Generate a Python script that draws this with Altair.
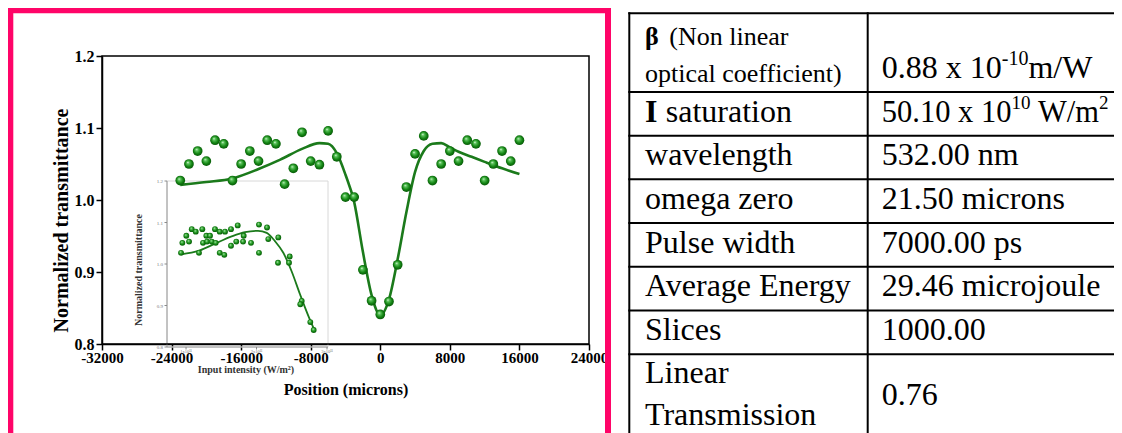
import re
import altair as alt
import pandas as pd

# ---------------- main Z-scan (closed aperture) data ----------------
pos_x = [-23000, -22000, -21000, -20000, -19000, -18000, -17000, -16000, -15000, -14000,
         -13000, -12000, -11000, -10000, -9000, -8000, -7000, -6000, -5000, -4000,
         -3000, -2000, -1000, 0, 1000, 2000, 3000, 4000, 5000, 6000,
         7000, 8000, 9000, 10000, 11000, 12000, 13000, 14000, 15000, 16000]
pos_t = [1.027, 1.050, 1.068, 1.054, 1.083, 1.078, 1.027, 1.050, 1.068, 1.054,
         1.083, 1.078, 1.022, 1.044, 1.094, 1.054, 1.049, 1.096, 1.060, 1.004,
         1.004, 0.903, 0.860, 0.841, 0.859, 0.910, 1.018, 1.064, 1.089, 1.027,
         1.050, 1.068, 1.054, 1.083, 1.078, 1.027, 1.050, 1.068, 1.054, 1.083]

fit_x = [-23000, -20000, -17000, -14000, -11500, -9000, -7000, -6000, -5000, -4000,
         -3000, -2000, -1000, 0, 1000, 2000, 3000, 4000, 5000, 6000,
         7000, 8000, 9000, 10500, 12000, 14000, 16000]
fit_t = [1.021, 1.025, 1.030, 1.043, 1.056, 1.071, 1.079, 1.078, 1.065, 1.035,
         0.997, 0.928, 0.868, 0.840, 0.862, 0.918, 0.983, 1.039, 1.068, 1.078,
         1.079, 1.073, 1.067, 1.060, 1.053, 1.044, 1.036]

x_ticks = [-32000, -24000, -16000, -8000, 0, 8000, 16000, 24000]
y_ticks = [0.8, 0.9, 1.0, 1.1, 1.2]

# ---------------- inset: transmittance vs input intensity (x 1e11 W/m^2) ----------------
int_x = [0.929, 0.948, 1.004, 1.043, 1.081, 1.138, 1.184, 1.231, 1.241, 1.288,
         1.298, 1.340, 1.365, 1.411, 1.421, 1.478, 1.478, 1.543, 1.553, 1.638,
         1.638, 1.713, 1.733, 1.809, 1.818, 1.922, 2.035, 2.035, 2.149, 2.167,
         2.309, 2.305, 2.471, 2.461, 2.641, 2.621, 2.763, 2.811]
int_t = [1.027, 1.051, 1.068, 1.054, 1.084, 1.078, 1.027, 1.084, 1.051, 1.068,
         1.054, 1.068, 1.054, 1.084, 1.051, 1.078, 1.027, 1.022, 1.078, 1.084,
         1.044, 1.054, 1.093, 1.054, 1.068, 1.051, 1.095, 1.027, 1.088, 1.060,
         1.064, 1.003, 1.018, 1.003, 0.911, 0.903, 0.860, 0.841]
int_fit_x = [0.929, 1.184, 1.411, 1.638, 1.837, 2.021, 2.145, 2.262, 2.380, 2.499,
             2.617, 2.735, 2.816]
int_fit_t = [1.023, 1.032, 1.049, 1.066, 1.077, 1.080, 1.075, 1.055, 1.027, 0.982,
             0.927, 0.875, 0.843]
in_x_ticks = [1, 2, 3]
in_x_labels = ["1x10¹¹", "2x10¹¹", "3x10¹¹"]
in_y_ticks = [0.8, 0.9, 1.0, 1.1, 1.2]

# ---------------- parameter table ----------------
param_bold = ["β", "I", "", "", "", "", "", ""]
param_lines = [["(Non linear", "optical coefficient)"], ["saturation"], ["wavelength"],
               ["omega zero"], ["Pulse width"], ["Average Energy"], ["Slices"],
               ["Linear", "Transmission"]]
param_values = ["0.88 x 10^{-10}m/W", "50.10 x 10^{10} W/m^{2}", "532.00 nm", "21.50 microns",
                "7000.00 ps", "29.46 microjoule", "1000.00", "0.76"]

# ---------------- layout ----------------
FONT = "Liberation Serif"
GREEN = "#1b7a1b"
OX, OY = 102, 56          # page position of the main plot origin
VW, VH = 487, 288         # main plot area
TOTAL_W, TOTAL_H = 1106, 425
PAD = {"left": OX - 8, "top": OY - 8,
       "right": TOTAL_W - (OX - 8) - VW, "bottom": TOTAL_H - (OY - 8) - VH}


def vx(p):
    return p - OX


def vy(p):
    return p - OY


def sphere():
    return {"gradient": "radial", "x1": 0.38, "y1": 0.32, "r1": 0.0,
            "x2": 0.5, "y2": 0.5, "r2": 0.58,
            "stops": [{"offset": 0.0, "color": "#f0fff0"},
                      {"offset": 0.22, "color": "#5cc45c"},
                      {"offset": 0.62, "color": "#118311"},
                      {"offset": 1.0, "color": "#064806"}]}


layers = []

# ---- pink frame around the figure ----
layers.append(alt.Chart(pd.DataFrame({"a": [0]})).mark_rect(
    fillOpacity=0, stroke="#ff0468", strokeWidth=6).encode(
    x=alt.value(vx(10.3)), x2=alt.value(vx(608.0)), y=alt.value(vy(10.3)), y2=alt.value(vy(500))))

# ---- inset chart (drawn first, under the main curve) ----
IN_DOM_X = [0.73, 3.014]
in_px_x = (vx(328) - vx(167)) / (IN_DOM_X[1] - IN_DOM_X[0])
in_px_y = (347 - 181) / 0.4


def in_xs():
    return alt.Scale(domain=IN_DOM_X, range=[vx(167), vx(328)], nice=False, zero=False)


def in_ys():
    return alt.Scale(domain=[0.8, 1.2], range=[vy(347), vy(181)], nice=False, zero=False)


def IX(f):
    return alt.X(f, scale=in_xs(), axis=None)


def IY(f):
    return alt.Y(f, scale=in_ys(), axis=None)


df_in_frame = pd.DataFrame({"u": [IN_DOM_X[0]], "u2": [IN_DOM_X[1]], "t": [0.8], "t2": [1.2]})
layers.append(alt.Chart(df_in_frame).mark_rect(fillOpacity=0, stroke="#d8d8d8", strokeWidth=1).encode(
    x=IX("u:Q"), x2="u2:Q", y=IY("t:Q"), y2="t2:Q"))
# inset axis lines
df_in_ax = pd.DataFrame({"u": [IN_DOM_X[0], IN_DOM_X[0]], "u2": [IN_DOM_X[0], IN_DOM_X[1]],
                         "t": [0.8, 0.8], "t2": [1.2, 0.8]})
layers.append(alt.Chart(df_in_ax).mark_rule(color="#9a9a9a", strokeWidth=1).encode(
    x=IX("u:Q"), x2="u2:Q", y=IY("t:Q"), y2="t2:Q"))
# inset y ticks + labels
tk = 2.5
df_in_yt = pd.DataFrame({"u": [IN_DOM_X[0]] * len(in_y_ticks),
                         "u2": [IN_DOM_X[0] - tk / in_px_x] * len(in_y_ticks),
                         "t": in_y_ticks, "lab": ["%.1f" % v for v in in_y_ticks]})
layers.append(alt.Chart(df_in_yt).mark_rule(color="#8a8a8a", strokeWidth=1).encode(
    x=IX("u:Q"), x2="u2:Q", y=IY("t:Q")))
layers.append(alt.Chart(df_in_yt).mark_text(align="right", baseline="middle", dx=-4, font=FONT,
                                            fontSize=5, color="#777777").encode(
    x=IX("u:Q"), y=IY("t:Q"), text="lab:N"))
# inset x ticks + labels
df_in_xt = pd.DataFrame({"u": in_x_ticks, "t": [0.8] * 3, "t2": [0.8 - tk / in_px_y] * 3,
                         "lab": in_x_labels})
layers.append(alt.Chart(df_in_xt).mark_rule(color="#8a8a8a", strokeWidth=1).encode(
    x=IX("u:Q"), y=IY("t:Q"), y2="t2:Q"))
layers.append(alt.Chart(df_in_xt).mark_text(align="center", baseline="top", dy=2, font=FONT,
                                            fontSize=4.5, color="#777777").encode(
    x=IX("u:Q"), y=IY("t:Q"), text="lab:N"))
# inset axis titles
df_in_tt = pd.DataFrame({"u": [IN_DOM_X[0] + (139 - 167) / in_px_x],
                         "t": [1.2 - (270 - 181) / in_px_y], "lab": ["Normalized transmittance"]})
layers.append(alt.Chart(df_in_tt).mark_text(align="center", baseline="middle", angle=270, font=FONT,
                                            fontWeight="bold", fontSize=10, color="#333333").encode(
    x=IX("u:Q"), y=IY("t:Q"), text="lab:N"))
df_in_xtt = pd.DataFrame({"u": [IN_DOM_X[0] + (246 - 167) / in_px_x],
                          "t": [1.2 - (370 - 181) / in_px_y], "lab": ["Input intensity (W/m²)"]})
layers.append(alt.Chart(df_in_xtt).mark_text(align="center", baseline="middle", font=FONT,
                                             fontWeight="bold", fontSize=10, color="#333333").encode(
    x=IX("u:Q"), y=IY("t:Q"), text="lab:N"))
# inset data
layers.append(alt.Chart(pd.DataFrame({"u": int_fit_x, "t": int_fit_t})).mark_line(
    color=GREEN, strokeWidth=1.8, interpolate="monotone").encode(x=IX("u:Q"), y=IY("t:Q")))
layers.append(alt.Chart(pd.DataFrame({"u": int_x, "t": int_t})).mark_circle(
    fill=sphere(), opacity=1, size=34).encode(x=IX("u:Q"), y=IY("t:Q")))

# ---- main chart ----
def mxs():
    return alt.Scale(domain=[-32000, 24000], nice=False, zero=False)


def mys():
    return alt.Scale(domain=[0.8, 1.2], nice=False, zero=False)


main_xaxis = alt.Axis(values=x_ticks, labelExpr="datum.value + ''", title="Position (microns)",
                      grid=False, domainColor="black", domainWidth=1.5, tickColor="black",
                      tickWidth=1.5, tickSize=6, labelFont=FONT, labelFontWeight="bold",
                      labelFontSize=15, labelColor="black", labelPadding=0, labelFlush=False,
                      labelOverlap=False, titleFont=FONT, titleFontWeight="bold", titleFontSize=16,
                      titleColor="black", titleY=37, titleBaseline="top")
main_yaxis = alt.Axis(values=y_ticks, format=".1f", title="Normalized transmittance", grid=False,
                      domainColor="black", domainWidth=1.5, tickColor="black", tickWidth=1.5,
                      tickSize=6, labelFont=FONT, labelFontWeight="bold", labelFontSize=16,
                      labelColor="black", labelPadding=2, labelFlush=False, labelOverlap=False,
                      titleFont=FONT, titleFontWeight="bold", titleFontSize=20, titleColor="black",
                      titleX=71 - OX, titleY=220 - OY)

df_frame = pd.DataFrame({"x": [x_ticks[0]], "x2": [x_ticks[-1]], "t": [y_ticks[0]], "t2": [y_ticks[-1]]})
layers.append(alt.Chart(df_frame).mark_rect(fillOpacity=0, stroke="black", strokeWidth=1.5).encode(
    x=alt.X("x:Q", scale=mxs(), axis=None), x2="x2:Q",
    y=alt.Y("t:Q", scale=mys(), axis=None), y2="t2:Q"))
layers.append(alt.Chart(pd.DataFrame({"x": fit_x, "t": fit_t})).mark_line(
    color=GREEN, strokeWidth=2.6, interpolate="monotone").encode(
    x=alt.X("x:Q", scale=mxs(), axis=None), y=alt.Y("t:Q", scale=mys(), axis=None)))
layers.append(alt.Chart(pd.DataFrame({"x": pos_x, "t": pos_t})).mark_circle(
    fill=sphere(), opacity=1, size=95).encode(
    x=alt.X("x:Q", scale=mxs(), axis=main_xaxis), y=alt.Y("t:Q", scale=mys(), axis=main_yaxis)))

# ---- parameter table ----
ROW_UNIT = 43.7
COL_UNIT = 867.7 - 629.3
row_heights = [1.8, 1, 1, 1, 1, 1, 1, 2]
row_tops = [0.0]
for h in row_heights[:-1]:
    row_tops.append(row_tops[-1] + h)
table_bottom = row_tops[-1] + row_heights[-1]


def txs():
    return alt.Scale(domain=[0, 1], range=[vx(629.3), vx(867.7)], nice=False, zero=False)


def tys():
    return alt.Scale(domain=[0, table_bottom],
                     range=[vy(13.3), vy(13.3) + table_bottom * ROW_UNIT], nice=False, zero=False)


def TX(f):
    return alt.X(f, scale=txs(), axis=None)


def TY(f):
    return alt.Y(f, scale=tys(), axis=None)


label_first = [0.725, 0.68, 0.68, 0.68, 0.68, 0.68, 0.68, 0.66]
label_gap = [0.84, 0, 0, 0, 0, 0, 0, 0.96]
label_size = [26, 32, 32, 32, 32, 32, 32, 32]
value_off = [1.48, 0.68, 0.68, 0.68, 0.68, 0.68, 0.68, 1.16]
value_size = [32, 30.5, 32, 32, 32, 32, 32, 32]
sup_size = [20, 19, 20, 20, 20, 20, 20, 20]
text_start = [0.168, 0.153, 0.066, 0.066, 0.066, 0.066, 0.066, 0.066]
SUP_RAISE = 12.5

# Times-compatible advance widths (em) for measuring value pieces
ADV = {"0": .5, "1": .5, "2": .5, "3": .5, "4": .5, "5": .5, "6": .5, "7": .5, "8": .5, "9": .5,
       ".": .25, " ": .25, "x": .5, "-": .333, "m": .778, "/": .278, "W": .944}


def advance(s, fs):
    return sum(ADV.get(c, 0.5) for c in s) * fs


reg_rows, bold_rows = [], []
for i, lines in enumerate(param_lines):
    for k, line in enumerate(lines):
        reg_rows.append({"cx": text_start[i] if k == 0 else 0.066,
                         "cy": row_tops[i] + label_first[i] + k * label_gap[i],
                         "txt": line, "fs": label_size[i]})
    if param_bold[i]:
        bold_rows.append({"cx": 0.066, "cy": row_tops[i] + label_first[i],
                          "txt": param_bold[i], "fs": label_size[i]})
    # value cell, with ^{...} superscripts split into raised, smaller pieces
    parts = re.split(r"\^\{([^}]*)\}", param_values[i])
    pos = 0.0
    base_y = row_tops[i] + value_off[i]
    for j, piece in enumerate(parts):
        if not piece:
            continue
        sup = (j % 2 == 1)
        fs = sup_size[i] if sup else value_size[i]
        lead = len(piece) - len(piece.lstrip(" "))
        pos += advance(piece[:lead], fs)
        body = piece.lstrip(" ")
        reg_rows.append({"cx": 1.059 + pos / COL_UNIT,
                         "cy": base_y - (SUP_RAISE / ROW_UNIT if sup else 0.0),
                         "txt": body, "fs": fs})
        pos += advance(body, fs)

df_h = pd.DataFrame({"x0": [0.0] * len(row_tops), "x1": [2.5] * len(row_tops), "y": row_tops})
df_v = pd.DataFrame({"x": [0.0, 1.0], "y0": [0.0, 0.0], "y1": [table_bottom, table_bottom]})

layers.append(alt.Chart(df_h).mark_rule(color="black", strokeWidth=2, strokeCap="square").encode(
    x=TX("x0:Q"), x2="x1:Q", y=TY("y:Q")))
layers.append(alt.Chart(df_v).mark_rule(color="black", strokeWidth=2, strokeCap="square").encode(
    x=TX("x:Q"), y=TY("y0:Q"), y2="y1:Q"))
layers.append(alt.Chart(pd.DataFrame(reg_rows)).mark_text(
    align="left", baseline="alphabetic", font=FONT, color="black").encode(
    x=TX("cx:Q"), y=TY("cy:Q"), text="txt:N", size=alt.Size("fs:Q", scale=None)))
layers.append(alt.Chart(pd.DataFrame(bold_rows)).mark_text(
    align="left", baseline="alphabetic", font=FONT, fontWeight="bold", color="black").encode(
    x=TX("cx:Q"), y=TY("cy:Q"), text="txt:N", size=alt.Size("fs:Q", scale=None)))

chart = alt.layer(*layers).resolve_scale(x="independent", y="independent").properties(
    width=VW, height=VH, padding=PAD, autosize=alt.AutoSizeParams(type="none"),
    background="white").configure_view(strokeWidth=0)

chart.save("out.html", embed_options={"renderer": "svg", "actions": False})
